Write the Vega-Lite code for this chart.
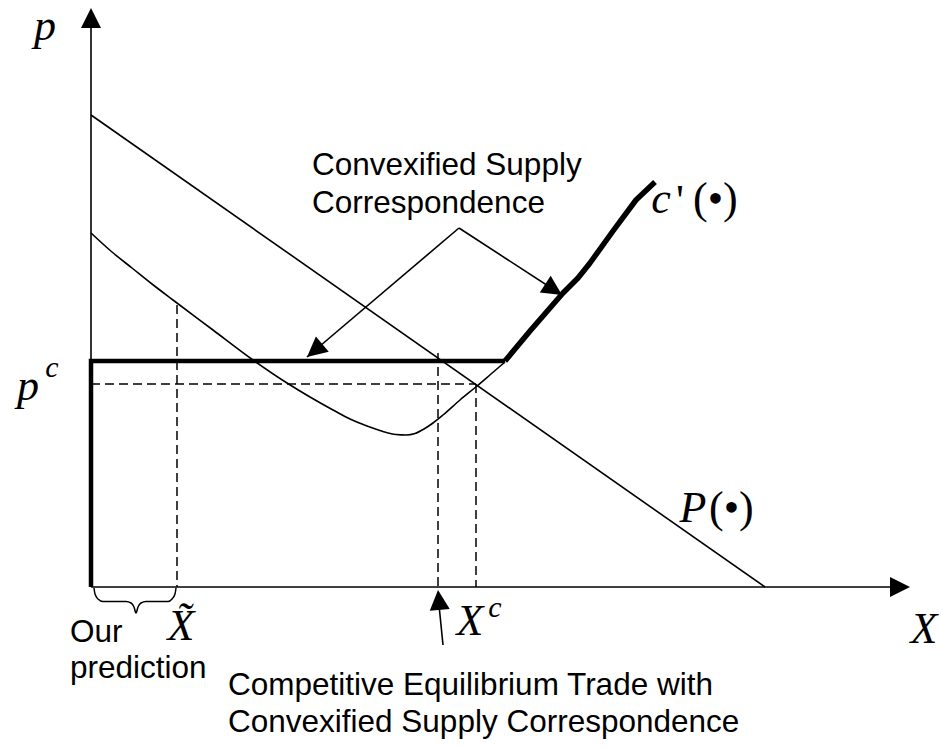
{
  "$schema": "https://vega.github.io/schema/vega-lite/v6.json",
  "width": 943,
  "height": 749,
  "autosize": {"type": "fit", "contains": "padding"},
  "padding": 0,
  "background": "white",
  "config": {"view": {"stroke": null}},
  "datasets": {
    "thin": [
      {"id": "yaxis", "ord": 1, "x": 0, "y": 0}, {"id": "yaxis", "ord": 2, "x": 0, "y": 561},
      {"id": "xaxis", "ord": 1, "x": 0, "y": 0}, {"id": "xaxis", "ord": 2, "x": 800, "y": 0},
      {"id": "demand", "ord": 1, "x": 0, "y": 472}, {"id": "demand", "ord": 2, "x": 674, "y": 0},
      {"id": "annL", "ord": 1, "x": 368, "y": 359}, {"id": "annL", "ord": 2, "x": 216, "y": 230},
      {"id": "annR", "ord": 1, "x": 368, "y": 359}, {"id": "annR", "ord": 2, "x": 471, "y": 292},
      {"id": "xcArrow", "ord": 1, "x": 352, "y": -58}, {"id": "xcArrow", "ord": 2, "x": 347, "y": -8}
    ],
    "curve": [
      {"ord": 1, "x": 0, "y": 354}, {"ord": 2, "x": 21, "y": 335}, {"ord": 3, "x": 41, "y": 319},
      {"ord": 4, "x": 61, "y": 303}, {"ord": 5, "x": 82, "y": 287}, {"ord": 6, "x": 122, "y": 257},
      {"ord": 7, "x": 162, "y": 227}, {"ord": 8, "x": 196, "y": 204}, {"ord": 9, "x": 219, "y": 190},
      {"ord": 10, "x": 242, "y": 177}, {"ord": 11, "x": 259, "y": 168}, {"ord": 12, "x": 276, "y": 161},
      {"ord": 13, "x": 292, "y": 155.5}, {"ord": 14, "x": 305, "y": 152.5}, {"ord": 15, "x": 315, "y": 152},
      {"ord": 16, "x": 324, "y": 153.5}, {"ord": 17, "x": 333, "y": 158}, {"ord": 18, "x": 342, "y": 164},
      {"ord": 19, "x": 352, "y": 172}, {"ord": 20, "x": 369, "y": 187}, {"ord": 21, "x": 386, "y": 201},
      {"ord": 22, "x": 400, "y": 213}, {"ord": 23, "x": 414, "y": 225}
    ],
    "thickL": [
      {"ord": 1, "x": 0, "y": 0}, {"ord": 2, "x": 0, "y": 226}, {"ord": 3, "x": 414, "y": 226}
    ],
    "thickC": [
      {"ord": 1, "x": 414, "y": 226}, {"ord": 2, "x": 439, "y": 256}, {"ord": 3, "x": 472, "y": 294},
      {"ord": 4, "x": 487, "y": 309}, {"ord": 5, "x": 499, "y": 324}, {"ord": 6, "x": 522, "y": 356},
      {"ord": 7, "x": 545, "y": 387}, {"ord": 8, "x": 564, "y": 405}
    ],
    "dashed": [
      {"id": "v1", "ord": 1, "x": 86, "y": 282}, {"id": "v1", "ord": 2, "x": 86, "y": 0},
      {"id": "h", "ord": 1, "x": 0, "y": 203}, {"id": "h", "ord": 2, "x": 385, "y": 203},
      {"id": "v2", "ord": 1, "x": 347, "y": 234}, {"id": "v2", "ord": 2, "x": 347, "y": 0},
      {"id": "v3", "ord": 1, "x": 385, "y": 203}, {"id": "v3", "ord": 2, "x": 385, "y": 0}
    ],
    "brace": [
      {"ord": 1, "x": 3, "y": -1}, {"ord": 2, "x": 4, "y": -7}, {"ord": 3, "x": 7, "y": -12},
      {"ord": 4, "x": 12, "y": -14.5}, {"ord": 5, "x": 35, "y": -14.5}, {"ord": 6, "x": 40, "y": -16},
      {"ord": 7, "x": 43, "y": -20}, {"ord": 8, "x": 45, "y": -26}, {"ord": 9, "x": 47, "y": -20},
      {"ord": 10, "x": 50, "y": -16}, {"ord": 11, "x": 55, "y": -14.5}, {"ord": 12, "x": 77, "y": -14.5},
      {"ord": 13, "x": 81, "y": -12}, {"ord": 14, "x": 84, "y": -7}, {"ord": 15, "x": 85, "y": -1}
    ],
    "heads": [
      {"x": 0, "y": 579, "ang": 0},
      {"x": 819, "y": 0, "ang": 90},
      {"x": 347, "y": -3, "ang": -5},
      {"x": 216, "y": 230, "ang": 230},
      {"x": 471, "y": 292, "ang": 123}
    ],
    "sans": [
      {"t": "Convexified Supply", "x": 221, "y": 412},
      {"t": "Correspondence", "x": 221, "y": 374},
      {"t": "Competitive Equilibrium Trade with", "x": 137, "y": -108},
      {"t": "Convexified Supply Correspondence", "x": 137, "y": -145},
      {"t": "Our", "x": -21, "y": -55},
      {"t": "prediction", "x": -21, "y": -91}
    ],
    "mathI": [
      {"t": "p", "x": -46, "y": 547},
      {"t": "p", "x": -63, "y": 187},
      {"t": "X", "x": 833, "y": -56},
      {"t": "X", "x": 379, "y": -48},
      {"t": "X̃", "x": 90, "y": -53},
      {"t": "P", "x": 602, "y": 65},
      {"t": "c", "x": 570, "y": 374}
    ],
    "sup": [
      {"t": "c", "x": -39, "y": 210},
      {"t": "c", "x": 404, "y": -30}
    ],
    "mathR": [
      {"t": "(•)", "x": 618, "y": 65},
      {"t": "'", "x": 585, "y": 372},
      {"t": "(•)", "x": 602, "y": 374}
    ]
  },
  "layer": [
    {
      "data": {"name": "dashed"},
      "mark": {"type": "line", "color": "black", "strokeWidth": 1.5, "strokeDash": [9, 5]},
      "encoding": {
        "x": {"field": "x", "type": "quantitative", "scale": {"domain": [-91, 852], "nice": false, "zero": false}, "axis": null},
        "y": {"field": "y", "type": "quantitative", "scale": {"domain": [-162, 587], "nice": false, "zero": false}, "axis": null},
        "detail": {"field": "id"},
        "order": {"field": "ord", "type": "quantitative"}
      }
    },
    {
      "data": {"name": "thin"},
      "mark": {"type": "line", "color": "black", "strokeWidth": 1.6},
      "encoding": {
        "x": {"field": "x", "type": "quantitative", "scale": {"domain": [-91, 852], "nice": false, "zero": false}, "axis": null},
        "y": {"field": "y", "type": "quantitative", "scale": {"domain": [-162, 587], "nice": false, "zero": false}, "axis": null},
        "detail": {"field": "id"},
        "order": {"field": "ord", "type": "quantitative"}
      }
    },
    {
      "data": {"name": "curve"},
      "mark": {"type": "line", "color": "black", "strokeWidth": 1.6, "interpolate": "monotone"},
      "encoding": {
        "x": {"field": "x", "type": "quantitative", "axis": null},
        "y": {"field": "y", "type": "quantitative", "axis": null},
        "order": {"field": "ord", "type": "quantitative"}
      }
    },
    {
      "data": {"name": "brace"},
      "mark": {"type": "line", "color": "black", "strokeWidth": 1.5, "interpolate": "monotone"},
      "encoding": {
        "x": {"field": "x", "type": "quantitative", "axis": null},
        "y": {"field": "y", "type": "quantitative", "axis": null},
        "order": {"field": "ord", "type": "quantitative"}
      }
    },
    {
      "data": {"name": "thickL"},
      "mark": {"type": "line", "color": "black", "strokeWidth": 4.5, "strokeJoin": "miter"},
      "encoding": {
        "x": {"field": "x", "type": "quantitative", "axis": null},
        "y": {"field": "y", "type": "quantitative", "axis": null},
        "order": {"field": "ord", "type": "quantitative"}
      }
    },
    {
      "data": {"name": "thickC"},
      "mark": {"type": "line", "color": "black", "strokeWidth": 5.5, "strokeJoin": "round"},
      "encoding": {
        "x": {"field": "x", "type": "quantitative", "axis": null},
        "y": {"field": "y", "type": "quantitative", "axis": null},
        "order": {"field": "ord", "type": "quantitative"}
      }
    },
    {
      "data": {"name": "heads"},
      "mark": {"type": "point", "shape": "M0,0L-0.5,1L0.5,1Z", "size": 1600, "filled": true, "color": "black", "opacity": 1, "strokeWidth": 0},
      "encoding": {
        "x": {"field": "x", "type": "quantitative", "axis": null},
        "y": {"field": "y", "type": "quantitative", "axis": null},
        "angle": {"field": "ang", "type": "quantitative", "scale": null}
      }
    },
    {
      "data": {"name": "sans"},
      "mark": {"type": "text", "font": "Liberation Sans", "fontSize": 31.5, "align": "left", "baseline": "alphabetic", "color": "black"},
      "encoding": {
        "x": {"field": "x", "type": "quantitative", "axis": null},
        "y": {"field": "y", "type": "quantitative", "axis": null},
        "text": {"field": "t"}
      }
    },
    {
      "data": {"name": "mathI"},
      "mark": {"type": "text", "font": "Liberation Serif", "fontStyle": "italic", "fontSize": 44, "align": "center", "baseline": "alphabetic", "color": "black"},
      "encoding": {
        "x": {"field": "x", "type": "quantitative", "axis": null},
        "y": {"field": "y", "type": "quantitative", "axis": null},
        "text": {"field": "t"}
      }
    },
    {
      "data": {"name": "sup"},
      "mark": {"type": "text", "font": "Liberation Serif", "fontStyle": "italic", "fontSize": 30, "align": "center", "baseline": "alphabetic", "color": "black"},
      "encoding": {
        "x": {"field": "x", "type": "quantitative", "axis": null},
        "y": {"field": "y", "type": "quantitative", "axis": null},
        "text": {"field": "t"}
      }
    },
    {
      "data": {"name": "mathR"},
      "mark": {"type": "text", "font": "Liberation Serif", "fontSize": 44, "align": "left", "baseline": "alphabetic", "color": "black"},
      "encoding": {
        "x": {"field": "x", "type": "quantitative", "axis": null},
        "y": {"field": "y", "type": "quantitative", "axis": null},
        "text": {"field": "t"}
      }
    }
  ]
}
